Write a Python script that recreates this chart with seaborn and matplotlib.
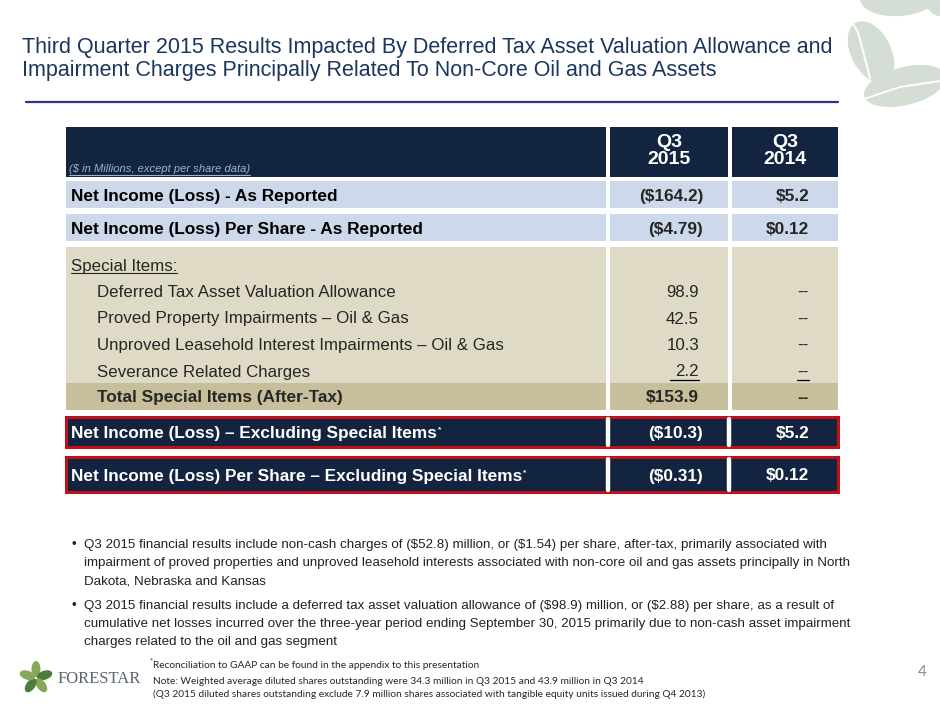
import numpy as np
import matplotlib
matplotlib.use("Agg")
import matplotlib.pyplot as plt
import seaborn as sns
from matplotlib.patches import Rectangle, Ellipse

sns.set_theme(style="white")
plt.rcParams["font.family"] = ["Liberation Sans", "DejaVu Sans"]
plt.rcParams["text.parse_math"] = False
NOTE_FONT = ["Lato", "DejaVu Sans"]

# ---------------- data ----------------
title_lines = ["Third Quarter 2015 Results Impacted By Deferred Tax Asset Valuation Allowance and",
               "Impairment Charges Principally Related To Non-Core Oil and Gas Assets"]
col_headers = ["Q3\n2015", "Q3\n2014"]
units_note = "($ in Millions, except per share data)"

reported_labels = ["Net Income (Loss) - As Reported", "Net Income (Loss) Per Share - As Reported"]
reported_2015 = ["($164.2)", "($4.79)"]
reported_2014 = ["$5.2", "$0.12"]

special_labels = ["Deferred Tax Asset Valuation Allowance",
                  "Proved Property Impairments \u2013 Oil & Gas",
                  "Unproved Leasehold Interest Impairments \u2013 Oil & Gas",
                  "Severance Related Charges"]
special_2015 = [98.9, 42.5, 10.3, 2.2]
special_2014 = ["--", "--", "--", "--"]
total_label = "Total Special Items (After-Tax)"
total_2015 = 153.9
total_2014 = "--"

excl_labels = ["Net Income (Loss) \u2013 Excluding Special Items",
               "Net Income (Loss) Per Share \u2013 Excluding Special Items"]
excl_2015 = ["($10.3)", "($0.31)"]
excl_2014 = ["$5.2", "$0.12"]

bullets = [
    ["Q3 2015 financial results include non-cash charges of ($52.8) million, or ($1.54) per share, after-tax, primarily associated with",
     "impairment of proved properties and unproved leasehold interests associated with non-core oil and gas assets principally in North",
     "Dakota, Nebraska and Kansas"],
    ["Q3 2015 financial results include a deferred tax asset valuation allowance of ($98.9) million, or ($2.88) per share, as a result of",
     "cumulative net losses incurred over the three-year period ending September 30, 2015 primarily due to non-cash asset impairment",
     "charges related to the oil and gas segment"],
]
footnotes = ["Note: Weighted average diluted shares outstanding were 34.3 million in Q3 2015 and 43.9 million in Q3 2014",
             "(Q3 2015 diluted shares outstanding exclude 7.9 million shares associated with tangible equity units issued during Q4 2013)"]
recon_note = "Reconciliation to GAAP can be found in the appendix to this presentation"
page_no = "4"

# ---------------- colours / layout ----------------
NAVY = "#12243f"
LIGHT_BLUE = "#cdd9ea"
BEIGE = "#dedac6"
TAN = "#c7bf9c"
RED = "#c0101a"
TITLE_C = "#1b365d"
LEAF = "#d5ded4"

x_lab, x_c1, x_c2, x_end = 66, 610, 732, 838
r1 = 703   # right edge of 2015 values (bold)
r2 = 809   # right edge of 2014 values
FS_ROW = 12.4
FS_ITEM = 12.2
BASE = 6   # baseline offset below a row's centre line

fig = plt.figure(figsize=(9.4, 7.05), dpi=100)
ax = fig.add_axes([0, 0, 1, 1])
ax.set_xlim(0, 940)
ax.set_ylim(705, 0)
ax.axis("off")


def cells(y0, y1, color):
    ax.add_patch(Rectangle((x_lab, y0), x_c1 - 4 - x_lab, y1 - y0, color=color, lw=0))
    ax.add_patch(Rectangle((x_c1, y0), x_c2 - 4 - x_c1, y1 - y0, color=color, lw=0))
    ax.add_patch(Rectangle((x_c2, y0), x_end - x_c2, y1 - y0, color=color, lw=0))


def row_text(x, yc, s, ha="left", **kw):
    return ax.text(x, yc + BASE, s, ha=ha, va="baseline", **kw)


# decorative leaves top right
for (cx, cy, w, h, ang) in [(900, -4, 80, 40, -5), (940, -2, 30, 36, 0),
                            (871, 52, 66, 40, 63), (905, 86, 84, 38, -14)]:
    ax.add_patch(Ellipse((cx, cy), w, h, angle=ang, color=LEAF, lw=0))
ax.plot([840, 858, 870], [3, 32, 78], color="white", lw=1.4)
ax.plot([858, 900, 940], [101, 87, 81], color="white", lw=1.4)

# title
for i, line in enumerate(title_lines):
    ax.text(22, 53 + i * 23, line, fontsize=15.5, color=TITLE_C, va="baseline")
ax.plot([26, 838], [102, 102], color="#2e3192", lw=1.6)

# header
cells(127, 177, NAVY)
for k, hdr in enumerate(col_headers):
    cx = (x_c1 + x_c2 - 4) / 2 if k == 0 else (x_c2 + x_end) / 2
    ax.text(cx, 151, hdr, fontsize=14, fontweight="bold", color="white",
            ha="center", va="center", linespacing=1.0)
t = ax.text(69, 172, units_note, fontsize=8, style="italic", color="#9fb3cf", va="baseline")

# as reported rows
for i, lab in enumerate(reported_labels):
    y0 = 181 + i * 33
    cells(y0, y0 + 27, LIGHT_BLUE)
    yc = y0 + 14
    row_text(71, yc, lab, fontsize=FS_ROW, fontweight="bold", color="black")
    row_text(r1, yc, reported_2015[i], ha="right", fontsize=FS_ROW, fontweight="bold")
    row_text(r2, yc, reported_2014[i], ha="right", fontsize=FS_ROW, fontweight="bold")

# special items block
cells(247, 383, BEIGE)
cells(383, 410, TAN)
si = row_text(71, 265, "Special Items:", fontsize=FS_ITEM)
for i, lab in enumerate(special_labels):
    yc = 291 + i * 26.5
    row_text(97, yc, lab, fontsize=FS_ITEM)
    row_text(r1 - 4, yc, f"{special_2015[i]:.1f}", ha="right", fontsize=FS_ITEM)
    row_text(r2, yc, special_2014[i], ha="right", fontsize=FS_ITEM)
ax.plot([670, 699], [380, 380], color="black", lw=0.9)
ax.plot([797, 809], [380, 380], color="black", lw=0.9)
row_text(97, 396, total_label, fontsize=FS_ROW, fontweight="bold")
row_text(r1 - 4, 396, f"${total_2015:.1f}", ha="right", fontsize=FS_ROW, fontweight="bold")
row_text(r2, 396, total_2014, ha="right", fontsize=FS_ROW, fontweight="bold")

# excluding special items rows (red boxed)
excl_texts = []
for i, lab in enumerate(excl_labels):
    y0, y1 = (417, 447) if i == 0 else (457, 492)
    ax.add_patch(Rectangle((x_lab, y0), x_end - x_lab, y1 - y0, facecolor=NAVY,
                           edgecolor=RED, lw=2.2))
    for xs in (608, 729):
        ax.plot([xs, xs], [y0 + 2, y1 - 2], color="white", lw=3.2)
    yc = (y0 + y1) / 2
    excl_texts.append(row_text(71, yc, lab, fontsize=FS_ROW, fontweight="bold", color="white"))
    row_text(r1, yc, excl_2015[i], ha="right", fontsize=FS_ROW, fontweight="bold", color="white")
    row_text(r2, yc, excl_2014[i], ha="right", fontsize=FS_ROW, fontweight="bold", color="white")

# bullets
for b, lines in enumerate(bullets):
    y = 545 + b * 61
    ax.text(72, y, "\u2022", fontsize=9.6, color="#222222", va="center")
    for j, line in enumerate(lines):
        ax.text(84, y + j * 18, line, fontsize=9.6, color="#222222", va="center")

# footnotes
ax.text(150, 661, "*", fontsize=5, family=NOTE_FONT, va="center")
ax.text(153, 666, recon_note, fontsize=7.3, family=NOTE_FONT, va="center")
for j, line in enumerate(footnotes):
    ax.text(153, 681 + j * 13, line, fontsize=7.3, family=NOTE_FONT, va="center")
ax.text(922, 672, page_no, fontsize=11, color="#8a8a8a", ha="center", va="center",
        family=NOTE_FONT)

# logo
for ang in range(0, 360, 72):
    a = np.deg2rad(ang - 90)
    ax.add_patch(Ellipse((36 + 9 * np.cos(a), 678 + 9 * np.sin(a)), 9, 16,
                         angle=ang, color="#4f7b3c" if ang % 144 else "#87a85a", lw=0))
ax.text(58, 679, "FORESTAR", fontsize=12, color="#5b6470", va="center",
        family=["Liberation Serif", "DejaVu Serif"])

# underlines and superscripts need text extents
fig.canvas.draw()
inv = ax.transData.inverted()
for txt, yl in [(t, 174.5), (si, 273)]:
    bb = txt.get_window_extent()
    (xa, _), (xb, _) = inv.transform([[bb.x0, bb.y0], [bb.x1, bb.y1]])
    ax.plot([xa, xb], [yl, yl], color=txt.get_color(), lw=0.8)
for txt in excl_texts:
    bb = txt.get_window_extent()
    (xb, yb) = inv.transform([bb.x1, bb.y1])
    ax.text(xb + 1, yb + 4, "*", fontsize=6, color="white", va="center", fontweight="bold")

fig.savefig("out.png", dpi=100)
